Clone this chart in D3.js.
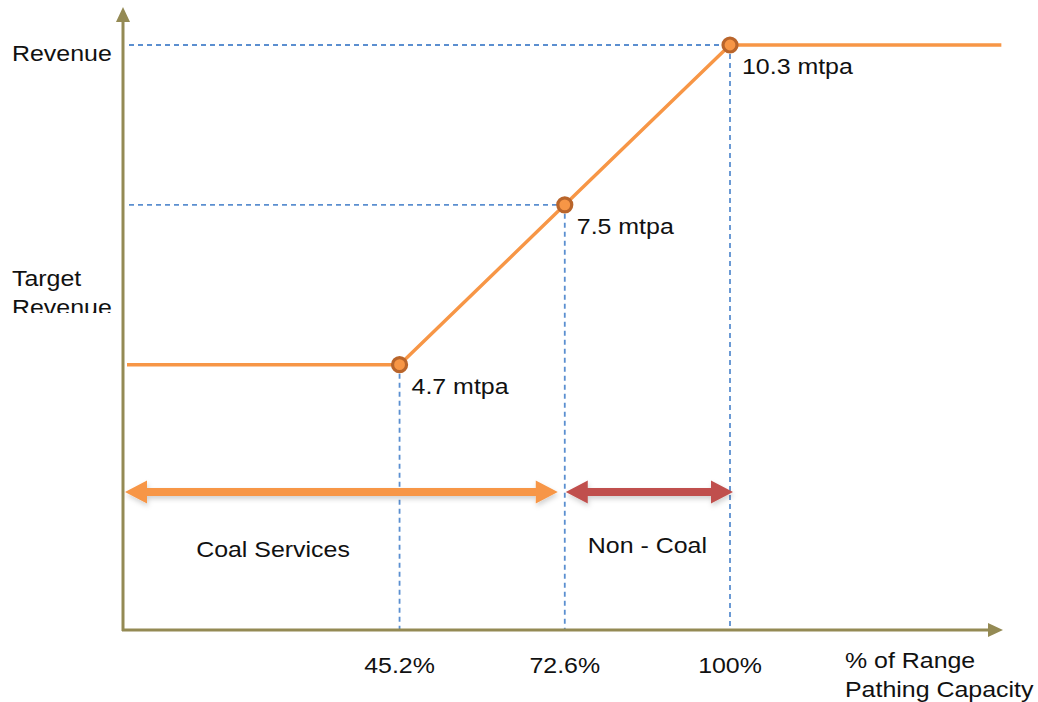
<!DOCTYPE html>
<html>
<head>
<meta charset="utf-8">
<script src="https://cdn.jsdelivr.net/npm/d3@7"></script>
<style>
  html, body { margin: 0; padding: 0; background: #fff; }
  svg { display: block; }
  text { font-family: "Liberation Sans", Arial, sans-serif; fill: #111; font-size: 21.5px; }
</style>
</head>
<body>
<svg id="chart" width="1038" height="702"></svg>
<script>
// Capacity thresholds (% of range pathing capacity) and volumes (mtpa)
const capacityPct = [45.2, 72.6, 100];
const volumeMtpa = [4.7, 7.5, 10.3];
const tickLabels = ["45.2%", "72.6%", "100%"];
const pointLabels = ["4.7 mtpa", "7.5 mtpa", "10.3 mtpa"];
// Revenue curve: flat floor, two ramps, flat cap (x in %, y in mtpa)
const curveX = [0, 45.2, 72.6, 100, 145];
const curveY = [4.7, 4.7, 7.5, 10.3, 10.3];
// Service bands along the capacity axis
const bandNames = ["Coal Services", "Non - Coal"];
const bandStart = [0, 72.6];
const bandEnd = [72.6, 100];
const bandColors = ["#f79646", "#c0504d"];
const yAxisLabels = [["Revenue"], ["Target", "Revenue"]];
const yAxisLabelValues = [10.3, 6.36];
const xAxisTitle = ["% of Range", "Pathing Capacity"];

const svg = d3.select("#chart");
const x = d3.scaleLinear().domain([0, 100]).range([127, 730]);
const y = d3.scaleLinear().domain([0, 10.3]).range([633, 45]);

const axisColor = "#948a54";
const dashColor = "#5b8fd0";
const lineColor = "#f79646";
const x0 = 123, yBase = 630;
const stretch = 1.16; // wide lettering

// Places a text at (tx, ty) with the wide lettering applied about its anchor
function placeText(sel, tx, ty) {
  return sel.attr("transform", (d, i) => {
    const px = typeof tx === "function" ? tx(d, i) : tx;
    const py = typeof ty === "function" ? ty(d, i) : ty;
    return `translate(${px},${py}) scale(${stretch},1)`;
  });
}

const defs = svg.append("defs");
const shadow = defs.append("filter").attr("id", "soft")
  .attr("x", "-5%").attr("y", "-50%").attr("width", "110%").attr("height", "200%");
shadow.append("feDropShadow").attr("dx", 1).attr("dy", 3).attr("stdDeviation", 2.5)
  .attr("flood-color", "#000").attr("flood-opacity", 0.18);
defs.append("clipPath").attr("id", "labelClip")
  .append("rect").attr("x", 0).attr("y", 0).attr("width", 120).attr("height", 313);

// Guide lines from the axes to each threshold point
const pts = capacityPct.map((c, i) => ({ c, v: volumeMtpa[i], tick: tickLabels[i], label: pointLabels[i] }));
const guides = svg.append("g").attr("stroke", dashColor).attr("stroke-width", 1.8)
  .attr("stroke-dasharray", "5,4").attr("fill", "none");
pts.forEach(p => {
  guides.append("line").attr("x1", x(p.c)).attr("x2", x(p.c))
    .attr("y1", y(p.v)).attr("y2", yBase);
});
pts.filter(p => p.c > capacityPct[0]).forEach(p => {
  guides.append("line").attr("x1", x0 + 6).attr("x2", x(p.c))
    .attr("y1", y(p.v)).attr("y2", y(p.v));
});

// Axes with arrowheads
const ax = svg.append("g");
ax.append("line").attr("x1", x0).attr("x2", x0).attr("y1", yBase + 1).attr("y2", 20)
  .attr("stroke", axisColor).attr("stroke-width", 3);
ax.append("path").attr("d", `M${x0},7 L${x0 - 7},22 L${x0 + 7},22 Z`).attr("fill", axisColor);
ax.append("line").attr("x1", x0 - 1).attr("x2", 990).attr("y1", yBase).attr("y2", yBase)
  .attr("stroke", axisColor).attr("stroke-width", 3);
ax.append("path").attr("d", `M1003,${yBase} L988,${yBase - 7} L988,${yBase + 7} Z`).attr("fill", axisColor);

// Revenue curve
const line = d3.line().x(d => x(d[0])).y(d => y(d[1]));
svg.append("path").datum(curveX.map((c, i) => [c, curveY[i]]))
  .attr("d", line).attr("fill", "none").attr("stroke", lineColor).attr("stroke-width", 3.4);

// Threshold markers and their labels
svg.append("g").selectAll("circle").data(pts).join("circle")
  .attr("cx", d => x(d.c)).attr("cy", d => y(d.v)).attr("r", 7)
  .attr("fill", "#f79646").attr("stroke", "#b9652b").attr("stroke-width", 3.2);
placeText(svg.append("g").selectAll("text").data(pts).join("text"),
  d => x(d.c) + 12, d => y(d.v) + 29).text(d => d.label);

// Capacity tick labels
placeText(svg.append("g").selectAll("text").data(pts).join("text"),
  d => x(d.c), 673).attr("text-anchor", "middle").text(d => d.tick);

// Axis titles
const yl = svg.append("g").attr("clip-path", "url(#labelClip)");
yAxisLabels.forEach((lines, i) => {
  const t = placeText(yl.append("text"), 12, y(yAxisLabelValues[i]) + 16);
  lines.forEach((s, j) => t.append("tspan").attr("x", 0).attr("y", j * 29).text(s));
});
const xt = placeText(svg.append("text"), 845, 668);
xAxisTitle.forEach((s, j) => xt.append("tspan").attr("x", 0).attr("y", j * 29).text(s));

// Service band double arrows
const bandY = 492, shaft = 8, headL = 22, headH = 23;
function doubleArrow(a, b) {
  const h = shaft / 2, H = headH / 2;
  return `M${a},${bandY} L${a + headL},${bandY - H} L${a + headL},${bandY - h} L${b - headL},${bandY - h}
          L${b - headL},${bandY - H} L${b},${bandY} L${b - headL},${bandY + H} L${b - headL},${bandY + h}
          L${a + headL},${bandY + h} L${a + headL},${bandY + H} Z`;
}
const bands = bandNames.map((n, i) => ({ n, s: bandStart[i], e: bandEnd[i], col: bandColors[i] }));
svg.append("g").selectAll("path").data(bands).join("path")
  .attr("d", (d, i) => doubleArrow(i === 0 ? x0 + 2 : x(d.s) + 1, i === 0 ? x(d.e) - 7 : x(d.e) + 3))
  .attr("fill", d => d.col).attr("filter", "url(#soft)");
placeText(svg.append("g").selectAll("text").data(bands).join("text"),
  (d, i) => i === 0 ? 273 : (x(d.s) + x(d.e)) / 2,
  (d, i) => i === 0 ? 557 : 553)
  .attr("text-anchor", "middle").text(d => d.n);
</script>
</body>
</html>
